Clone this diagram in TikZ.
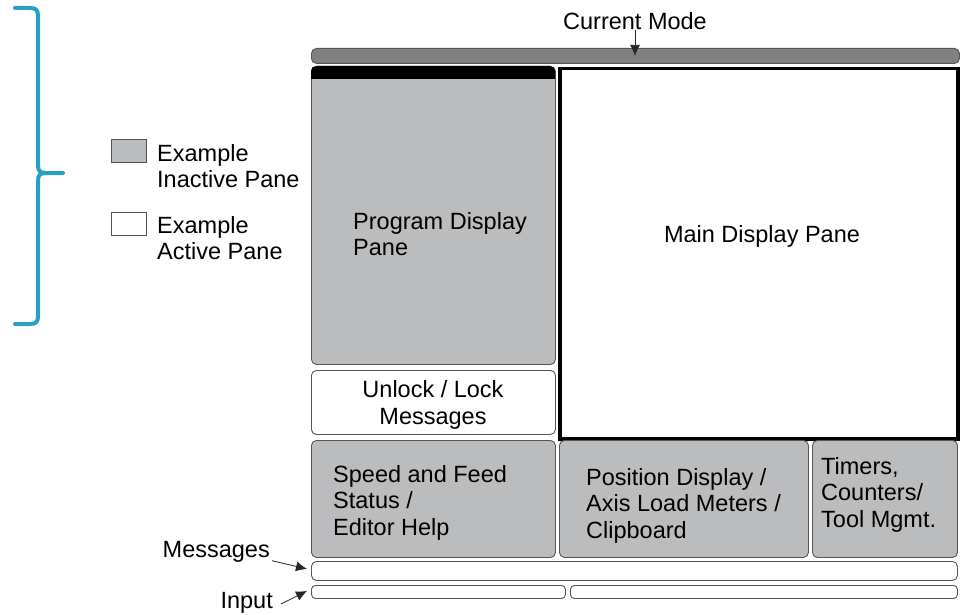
\documentclass[tikz,border=0pt]{standalone}
\usepackage{fontspec}
\setmainfont{Liberation Sans}
\usetikzlibrary{arrows.meta,calc}
\definecolor{paneGray}{RGB}{187,188,190}
\definecolor{barGray}{RGB}{128,128,128}
\definecolor{edgeGray}{RGB}{85,85,85}
\definecolor{braceBlue}{RGB}{42,160,192}
\tikzset{
  lbl/.style={font=\fontsize{23.5}{26.5}\selectfont, inner sep=0pt, text=black},
  lbltxt/.style={lbl, align=left, anchor=north west},
  pane/.style={draw=edgeGray, line width=0.9pt, rounded corners=5pt, fill=paneGray,
               anchor=north west, inner sep=0pt},
  whitepane/.style={pane, fill=white},
  activepane/.style={draw=black, line width=3.5pt, fill=white, anchor=north west, inner sep=0pt},
  swatch/.style={draw=edgeGray, line width=0.9pt, anchor=north west, inner sep=0pt,
                 minimum width=35pt, minimum height=23pt},
  pointer/.style={draw=black!85, line width=0.8pt, -{Latex[length=11pt,width=10pt]}},
}
\begin{document}
\begin{tikzpicture}[x=1pt,y=-1pt]
\useasboundingbox (0,0) rectangle (961,615);

% bracket at the left edge
\draw[braceBlue, line width=4pt, line cap=round, line join=round]
  (15,8) -- (30,8) .. controls (36,8) and (38,10) .. (38,16) -- (38,165)
  .. controls (38,171) and (40,173) .. (46,173) -- (63,173)
  (46,173) .. controls (40,173) and (38,175) .. (38,181) -- (38,316)
  .. controls (38,322) and (36,324) .. (30,324) -- (15,324);

% legend
\node[swatch, fill=paneGray] (swInactive) at (111,139) {};
\node[swatch, fill=white] (swActive) at (111,212) {};
\node[lbltxt] (lgInactive) at (157,144) {Example\\Inactive Pane};
\node[lbltxt] (lgActive) at (157,216) {Example\\Active Pane};

% mode bar
\node[pane, fill=barGray, minimum width=648pt, minimum height=15pt] (modebar) at (311,48) {};
\node[lbl] (modelbl) at (635,21) {Current Mode};
\draw[pointer] (modelbl.south) -- (modelbl.south |- modebar.center);

% program display pane with its black title band
\node[pane, minimum width=244pt, minimum height=298pt] (prog) at (311,66) {};
\fill[black] (311,79) [rounded corners=5pt] -- (311,66) -- (555,66) [sharp corners] -- (555,79) -- cycle;
\node[lbltxt] (progtxt) at (353,212) {Program Display\\Pane};

% main display pane
\node[activepane, minimum width=398pt, minimum height=370pt] (main) at (558,67) {};
\node[lbl] (maintxt) at (762,236) {Main Display Pane};

% unlock / lock messages
\node[whitepane, minimum width=244pt, minimum height=64pt] (unlock) at (311,370) {};
\node[lbl, align=center] (unlocktxt) at (433,405) {Unlock / Lock\\Messages};

% lower row of panes
\node[pane, minimum width=244pt, minimum height=117pt] (speed) at (311,440) {};
\node[lbltxt] (speedtxt) at (333,465) {Speed and Feed\\Status /\\Editor Help};
\node[pane, minimum width=249pt, minimum height=117pt] (pos) at (559,440) {};
\node[lbltxt] (postxt) at (586,468) {Position Display /\\Axis Load Meters /\\Clipboard};
\node[pane, minimum width=145pt, minimum height=117pt] (timers) at (812,440) {};
\node[lbltxt] (timerstxt) at (821,457) {Timers,\\Counters/\\Tool Mgmt.};

% message and input lines
\node[whitepane, minimum width=646pt, minimum height=19pt] (msgbar) at (311,561) {};
\node[whitepane, rounded corners=4pt, minimum width=254pt, minimum height=13pt] (inputA) at (311,585) {};
\node[whitepane, rounded corners=4pt, minimum width=387pt, minimum height=13pt] (inputB) at (570,585) {};

\node[lbl, anchor=east] (msglbl) at (270,552) {Messages};
\node[lbl, anchor=east] (inputlbl) at (273,603) {Input};
\draw[pointer] ($(msglbl.south east)+(2,-2)$) -- ($(msgbar.west)+(-4,-2)$);
\draw[pointer] ($(inputlbl.east)+(8,1)$) -- ($(inputA.west)+(-4,-1)$);
\end{tikzpicture}
\end{document}
